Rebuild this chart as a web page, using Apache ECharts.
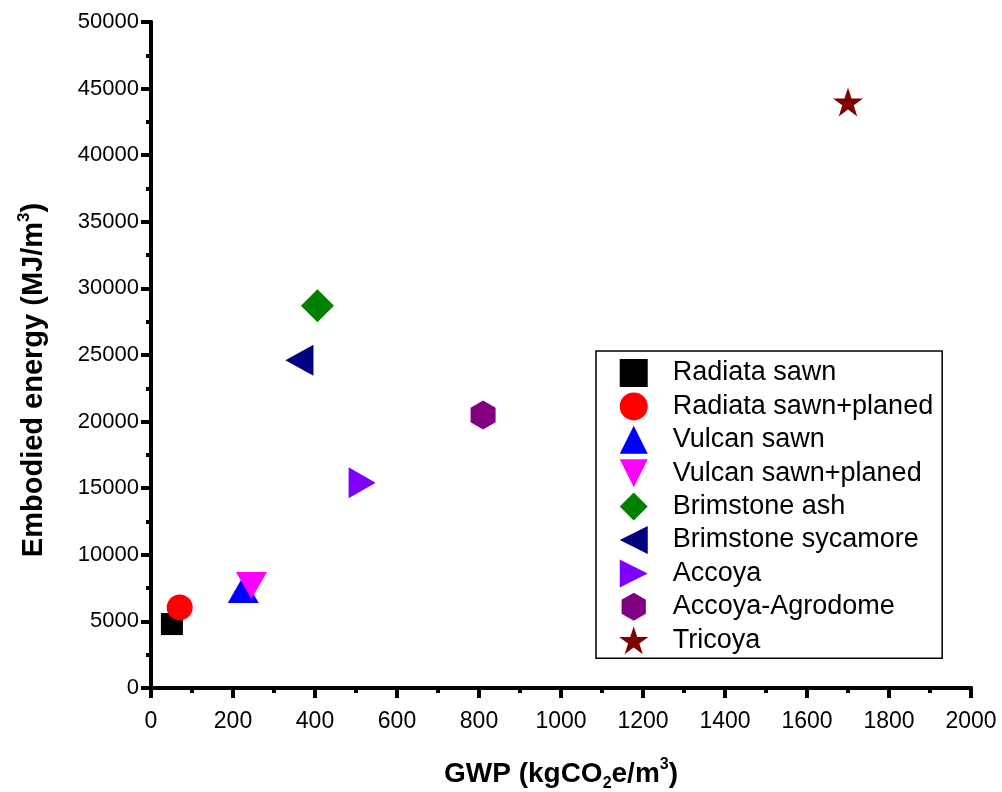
<!DOCTYPE html>
<html>
<head>
<meta charset="utf-8">
<script src="https://cdn.jsdelivr.net/npm/echarts@6/dist/echarts.min.js"></script>
<style>
  html, body { margin: 0; padding: 0; background: #fff; }
  #chart { width: 1002px; height: 792px; }
</style>
</head>
<body>
<div id="chart"></div>
<script>
// wood products: GWP (kgCO2e/m3) vs embodied energy (MJ/m3)
var names = ['Radiata sawn', 'Radiata sawn+planed', 'Vulcan sawn', 'Vulcan sawn+planed',
    'Brimstone ash', 'Brimstone sycamore', 'Accoya', 'Accoya-Agrodome', 'Tricoya'];
var gwp = [51, 70, 225, 245, 406, 362, 515, 810, 1700];
var energy = [4800, 6050, 7400, 7700, 28700, 24600, 15400, 20500, 44000];
var xTicks = [0, 200, 400, 600, 800, 1000, 1200, 1400, 1600, 1800, 2000];
var yTicks = [0, 5000, 10000, 15000, 20000, 25000, 30000, 35000, 40000, 45000, 50000];

var colors = ['#000000', '#ff0000', '#0000ff', '#ff00ff', '#008000', '#000080', '#8000ff', '#800080', '#800000'];
// marker shapes as paths so the legend keeps their aspect
var square = 'path://M-1,-1 L1,-1 L1,1 L-1,1 Z';
var triUp = 'path://M0,-1 L1,1 L-1,1 Z';
var triDown = 'path://M-1,-1 L1,-1 L0,1 Z';
var triLeft = 'path://M-1,0 L1,-1 L1,1 Z';
var triRight = 'path://M-1,-1 L1,0 L-1,1 Z';
var diamond = 'path://M0,-1 L1,0 L0,1 L-1,0 Z';
var hexagon = 'path://M0,-1 L0.866,-0.5 L0.866,0.5 L0,1 L-0.866,0.5 L-0.866,-0.5 Z';
var star = 'path://M0,-1 L0.2245,-0.309 L0.9511,-0.309 L0.3633,0.118 L0.5878,0.809 L0,0.382 ' +
    'L-0.5878,0.809 L-0.3633,0.118 L-0.9511,-0.309 L-0.2245,-0.309 Z';
var symbols = [square, 'circle', triUp, triDown, diamond, triLeft, triRight, hexagon, star];
var sizes = [[22, 22], [26, 26], [31, 27], [31, 27], [33, 33], [28, 31], [27, 31], [25, 29], [30, 29]];

var chart = echarts.init(document.getElementById('chart'));

var font = 'Liberation Sans, Arial, sans-serif';
var axisLine = { show: true, lineStyle: { color: '#000', width: 4 } };

function tick(inside) {
    return { show: true, inside: inside, length: 10, lineStyle: { width: 4, color: '#000' } };
}
function minor() {
    return { show: true, splitNumber: 2, length: 5, lineStyle: { width: 4, color: '#000' } };
}

var series = names.map(function (n, i) {
    return {
        name: n,
        type: 'scatter',
        data: [[gwp[i], energy[i]]],
        symbol: symbols[i],
        symbolSize: sizes[i],
        itemStyle: { color: colors[i], opacity: 1 },
        z: 2 + i
    };
});

var option = {
    animation: false,
    backgroundColor: '#fff',
    grid: { left: 151, right: 31, top: 22, bottom: 104, outerBoundsMode: 'none' },
    legend: {
        orient: 'vertical',
        left: 596,
        top: 351,
        data: names,
        itemWidth: 34,
        itemHeight: 28,
        itemGap: 5.4,
        padding: [8, 9, 4, 23],
        borderColor: '#000',
        borderWidth: 1.5,
        textStyle: { fontFamily: font, fontSize: 27, color: '#000', padding: [0, 0, 0, 17] }
    },
    xAxis: [{
        type: 'value',
        position: 'bottom',
        min: 0, max: 2000, interval: 200,
        axisLine: axisLine,
        axisTick: tick(false),
        minorTick: minor(),
        splitLine: { show: false },
        axisLabel: {
            margin: 22, color: '#000', fontSize: 23, fontFamily: font,
            formatter: function (v) { return xTicks.indexOf(v) >= 0 ? String(v) : ''; }
        },
        name: '{a|GWP (kgCO}{sub|2}{a|e/m}{sup|3}{a|)}',
        nameLocation: 'middle',
        nameGap: 68,
        nameTextStyle: {
            rich: {
                a: { fontFamily: font, fontWeight: 'bold', fontSize: 28, color: '#000' },
                sub: { fontFamily: font, fontWeight: 'bold', fontSize: 16, color: '#000', padding: [20, 0, 0, 0] },
                sup: { fontFamily: font, fontWeight: 'bold', fontSize: 16, color: '#000', padding: [0, 0, 18, 0] }
            }
        }
    }, {
        type: 'value',
        position: 'top',
        min: 0, max: 2000, interval: 200,
        axisLine: axisLine,
        axisTick: tick(true),
        minorTick: minor(),
        splitLine: { show: false },
        axisLabel: { show: false }
    }],
    yAxis: [{
        type: 'value',
        position: 'left',
        min: 0, max: 50000, interval: 5000,
        axisLine: axisLine,
        axisTick: tick(false),
        minorTick: minor(),
        splitLine: { show: false },
        axisLabel: {
            margin: 12, color: '#000', fontSize: 22, fontFamily: font,
            formatter: function (v) { return yTicks.indexOf(v) >= 0 ? String(v) : ''; }
        },
        name: '{a|Embodied energy (MJ/m}{sup|3}{a|)}',
        nameLocation: 'middle',
        nameGap: 100,
        nameTextStyle: {
            padding: [0, 50, 0, 0],
            rich: {
                a: { fontFamily: font, fontWeight: 'bold', fontSize: 29, color: '#000' },
                sup: { fontFamily: font, fontWeight: 'bold', fontSize: 17, color: '#000', padding: [0, 0, 18, 0] }
            }
        }
    }, {
        type: 'value',
        position: 'right',
        min: 0, max: 50000, interval: 5000,
        axisLine: axisLine,
        axisTick: tick(true),
        minorTick: minor(),
        splitLine: { show: false },
        axisLabel: { show: false }
    }],
    series: series
};

chart.setOption(option);
</script>
</body>
</html>
